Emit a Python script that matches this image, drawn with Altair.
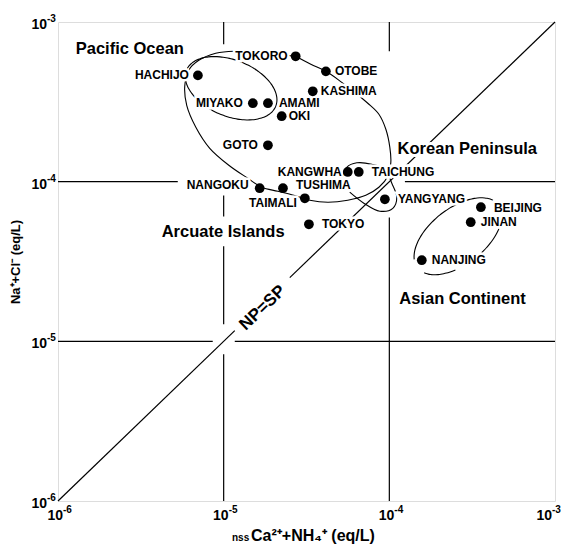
import numpy as np
import pandas as pd
import altair as alt

# ---------------- data ----------------
SITES = ["TOKORO", "OTOBE", "HACHIJO", "KASHIMA", "MIYAKO", "AMAMI", "OKI", "GOTO",
         "KANGWHA", "TAICHUNG", "NANGOKU", "TUSHIMA", "TAIMALI", "YANGYANG",
         "BEIJING", "JINAN", "TOKYO", "NANJING"]
NSS_CA_NH4 = [2.72e-5, 4.14e-5, 6.99e-6, 3.45e-5, 1.50e-5, 1.85e-5, 2.24e-5, 1.85e-5,
              5.61e-5, 6.54e-5, 1.65e-5, 2.28e-5, 3.09e-5, 9.40e-5,
              3.57e-4, 3.10e-4, 3.27e-5, 1.57e-4]
NA_CL = [6.10e-4, 4.91e-4, 4.63e-4, 3.68e-4, 3.10e-4, 3.10e-4, 2.57e-4, 1.69e-4,
         1.15e-4, 1.15e-4, 9.10e-5, 9.10e-5, 7.87e-5, 7.76e-5,
         6.92e-5, 5.57e-5, 5.41e-5, 3.22e-5]

TICK_VALUES = [1e-6, 1e-5, 1e-4, 1e-3]
TICK_BASE = ["10", "10", "10", "10"]
TICK_EXP = ["-6", "-5", "-4", "-3"]

REGIONS = ["Pacific Ocean", "Korean Peninsula", "Arcuate Islands", "Asian Continent"]

# ---------------- annotation geometry (log10 units) ----------------
REGION_ANCHORS = [(-5.893, -3.171), (-3.950, -3.797), (-5.374, -4.317), (-3.940, -4.736)]
NPSP_ANCHOR = (-4.765, -4.79)

BIG_LOOP = [(-4.565, -3.215), (-4.474, -3.265), (-4.383, -3.309), (-4.287, -3.378),
            (-4.202, -3.446), (-4.130, -3.509), (-4.063, -3.578), (-4.021, -3.672),
            (-3.997, -3.785), (-3.991, -3.879), (-4.009, -3.966), (-4.063, -4.035),
            (-4.142, -4.085), (-4.251, -4.116), (-4.371, -4.129), (-4.480, -4.116),
            (-4.577, -4.085), (-4.673, -4.060), (-4.770, -4.035), (-4.854, -3.979),
            (-4.969, -3.897), (-5.084, -3.791), (-5.168, -3.659), (-5.223, -3.522),
            (-5.235, -3.403), (-5.211, -3.302), (-5.150, -3.240), (-5.048, -3.196),
            (-4.939, -3.183), (-4.752, -3.196), (-4.565, -3.215)]
KOREA_LOOP = [(-4.281, -3.972), (-4.257, -3.910), (-4.196, -3.882), (-4.106, -3.891),
              (-4.027, -3.922), (-3.985, -4.010), (-3.955, -4.098), (-3.979, -4.167),
              (-4.057, -4.185), (-4.154, -4.135), (-4.239, -4.066)]
# ellipses: centre, semi-axes (decades), rotation (deg), drawn arcs (deg)
PACIFIC_ELLIPSE = dict(c=(-4.955, -3.415), a=0.292, b=0.175, rot=-23.6, arcs=[(0, 360)])
ASIA_ELLIPSE = dict(c=(-3.586, -4.342), a=0.314, b=0.172, rot=40.0,
                    arcs=[(12, 160), (195, 242), (278, 315)])

GRID_V = [(-5, -3.0, -3.14), (-5, -4.086, -4.218), (-5, -4.405, -4.893), (-5, -5.081, -6.0),
          (-4, -3.0, -3.183), (-4, -4.224, -6.0)]
GRID_H = [(-4, -6.0, -5.277), (-4, -3.906, -3.0), (-5, -6.0, -5.066), (-5, -4.933, -3.0)]
DIAG = [(-6.0, -4.933), (-4.601, -3.0)]

LABEL_PLACEMENT = {
    "TOKORO": ("right", -8, 0), "OTOBE": ("left", 9, 0), "HACHIJO": ("right", -9, 0),
    "KASHIMA": ("left", 8, 0), "MIYAKO": ("right", -10, 0), "AMAMI": ("left", 11, 0),
    "OKI": ("left", 7, 0), "GOTO": ("right", -10, 0), "KANGWHA": ("right", -6, 0),
    "TAICHUNG": ("left", 13, 0), "NANGOKU": ("right", -11, -3), "TUSHIMA": ("left", 13, -3),
    "TAIMALI": ("right", -8, 5), "YANGYANG": ("left", 13, 0), "BEIJING": ("left", 13, 1),
    "JINAN": ("left", 10, 0), "TOKYO": ("left", 13, 0), "NANJING": ("left", 10, 0),
}

FONT = "Liberation Sans"
W, H = 497, 479

# ---------------- build tables ----------------
pts = pd.DataFrame({"site": SITES, "x": NSS_CA_NH4, "y": NA_CL})
ticks = pd.DataFrame({"x": TICK_VALUES, "y": TICK_VALUES, "base": TICK_BASE, "exp": TICK_EXP})

rows = []
for name, path in [("big", BIG_LOOP), ("korea", KOREA_LOOP)]:
    for i, (a, b) in enumerate(path):
        rows.append({"seg": name, "i": i, "x": 10 ** a, "y": 10 ** b})
for ename, e in [("pac", PACIFIC_ELLIPSE), ("asia", ASIA_ELLIPSE)]:
    th = np.radians(e["rot"])
    u = np.array([np.cos(th), np.sin(th)])
    v = np.array([-np.sin(th), np.cos(th)])
    for k, (t0, t1) in enumerate(e["arcs"]):
        ts = np.radians(np.linspace(t0, t1, int((t1 - t0) / 4) + 2))
        for i, t in enumerate(ts):
            p = np.array(e["c"]) + e["a"] * np.cos(t) * u + e["b"] * np.sin(t) * v
            rows.append({"seg": f"{ename}{k}", "i": i, "x": 10 ** p[0], "y": 10 ** p[1]})
curve_df = pd.DataFrame(rows)

seg_rows = []
for xv, y1, y2 in GRID_V:
    seg_rows.append({"x": 10 ** xv, "x2": 10 ** xv, "y": 10 ** y1, "y2": 10 ** y2})
for yv, x1, x2 in GRID_H:
    seg_rows.append({"x": 10 ** x1, "x2": 10 ** x2, "y": 10 ** yv, "y2": 10 ** yv})
for a, b in DIAG:
    seg_rows.append({"x": 10 ** a, "x2": 10 ** b, "y": 10 ** a, "y2": 10 ** b})
seg_df = pd.DataFrame(seg_rows)

region_df = pd.DataFrame({"t": REGIONS,
                          "x": [10 ** a for a, _ in REGION_ANCHORS],
                          "y": [10 ** b for _, b in REGION_ANCHORS]})
npsp_df = pd.DataFrame({"t": ["NP=SP"], "x": [10 ** NPSP_ANCHOR[0]], "y": [10 ** NPSP_ANCHOR[1]]})

# ---------------- scales ----------------
XS = alt.Scale(type="log", domain=[1e-6, 1e-3], nice=False)
YS = alt.Scale(type="log", domain=[1e-6, 1e-3], nice=False)


def xe():
    return alt.X("x:Q", scale=XS, axis=None)


def ye():
    return alt.Y("y:Q", scale=YS, axis=None)


grid = alt.Chart(seg_df).mark_rule(color="black", strokeWidth=1.2).encode(
    x=xe(), x2="x2:Q", y=ye(), y2="y2:Q")

curves = alt.Chart(curve_df).mark_line(color="black", strokeWidth=1.1,
                                       interpolate="catmull-rom").encode(
    x=xe(), y=ye(), detail="seg:N", order="i:Q")

halos, texts = [], []
for name, (align, dx, dy) in LABEL_PLACEMENT.items():
    base = alt.Chart(pts).transform_filter(alt.datum.site == name)
    kw = dict(align=align, baseline="middle", dx=dx, dy=dy, font=FONT,
              fontSize=12, fontWeight="bold")
    halos.append(base.mark_text(color="white", stroke="white", strokeWidth=5, **kw)
                 .encode(x=xe(), y=ye(), text="site:N"))
    texts.append(base.mark_text(color="black", **kw).encode(x=xe(), y=ye(), text="site:N"))

rkw = dict(align="left", baseline="middle", font=FONT, fontSize=16.5, fontWeight="bold")
region_halo = alt.Chart(region_df).mark_text(color="white", stroke="white", strokeWidth=6,
                                             **rkw).encode(x=xe(), y=ye(), text="t:N")
region_text = alt.Chart(region_df).mark_text(color="black", **rkw).encode(
    x=xe(), y=ye(), text="t:N")

nkw = dict(align="center", baseline="middle", angle=316, font=FONT, fontSize=17,
           fontWeight="bold")
npsp_text = alt.Chart(npsp_df).mark_text(color="black", **nkw).encode(
    x=xe(), y=ye(), text="t:N")

dots = alt.Chart(pts).mark_circle(color="black", opacity=1, size=95).encode(x=xe(), y=ye())

# tick labels (10 with a raised exponent), placed through the scales
tkw = dict(font=FONT, fontWeight="bold", color="black")
LAST = TICK_VALUES[-1]
xt_inner = alt.Chart(ticks).transform_filter(alt.datum.x < LAST * 0.5)
xt_last = alt.Chart(ticks).transform_filter(alt.datum.x > LAST * 0.5)
xt_base = xt_inner.mark_text(align="right", baseline="middle", fontSize=14, dx=5,
                             **tkw).encode(x=xe(), y=alt.value(H + 15), text="base:N")
xt_exp = xt_inner.mark_text(align="left", baseline="middle", fontSize=10, dx=5,
                            **tkw).encode(x=xe(), y=alt.value(H + 9), text="exp:N")
xt_base_l = xt_last.mark_text(align="right", baseline="middle", fontSize=14, dx=-3,
                              **tkw).encode(x=xe(), y=alt.value(H + 15), text="base:N")
xt_exp_l = xt_last.mark_text(align="left", baseline="middle", fontSize=10, dx=-3,
                             **tkw).encode(x=xe(), y=alt.value(H + 9), text="exp:N")
yt_base = alt.Chart(ticks).mark_text(align="right", baseline="middle", fontSize=14, dy=3,
                                     **tkw).encode(x=alt.value(-11), y=ye(), text="base:N")
yt_exp = alt.Chart(ticks).mark_text(align="left", baseline="middle", fontSize=10, dy=-3,
                                    **tkw).encode(x=alt.value(-11), y=ye(), text="exp:N")

one = pd.DataFrame({"a": [0]})
ytitle = alt.Chart(one).mark_text(angle=270, align="center", baseline="middle", font=FONT,
                                  fontSize=13, fontWeight="bold", color="black").encode(
    x=alt.value(-42), y=alt.value(240), text=alt.value("Na⁺+Cl⁻  (eq/L)"))
xtitle_nss = alt.Chart(one).mark_text(align="left", baseline="alphabetic", font=FONT,
                                      fontSize=10, fontWeight="bold", color="black").encode(
    x=alt.value(174), y=alt.value(519), text=alt.value("nss"))
xtitle_main = alt.Chart(one).mark_text(align="left", baseline="alphabetic", font=FONT,
                                       fontSize=16, fontWeight="bold", color="black").encode(
    x=alt.value(193), y=alt.value(519), text=alt.value("Ca²⁺+NH₄⁺  (eq/L)"))

chart = alt.layer(
    grid, curves, *halos, region_halo, dots, *texts, region_text, npsp_text,
    xt_base, xt_exp, xt_base_l, xt_exp_l, yt_base, yt_exp, ytitle, xtitle_nss, xtitle_main
).properties(
    width=W, height=H, autosize="none",
    padding={"left": 50, "top": 14, "right": 6, "bottom": 43}
).configure_view(stroke="black", strokeWidth=1.6).configure(background="white")

chart.save("out.html", embed_options={"renderer": "svg", "actions": False})
